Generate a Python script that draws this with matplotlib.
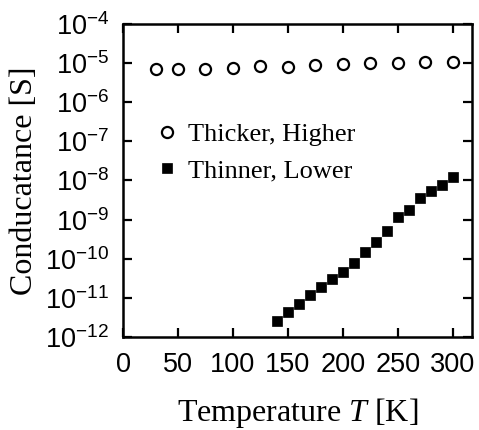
import numpy as np
import matplotlib
matplotlib.use("Agg")
import matplotlib.pyplot as plt
from matplotlib.ticker import FixedLocator, LogFormatterSciNotation, NullLocator

plt.rcParams['font.family'] = ['Liberation Sans', 'DejaVu Sans']
plt.rcParams['mathtext.fontset'] = 'custom'
plt.rcParams['mathtext.rm'] = 'Liberation Sans'
plt.rcParams['mathtext.it'] = 'Liberation Serif:italic'
plt.rcParams['mathtext.bf'] = 'Liberation Sans:bold'

# thicker film, higher conductance
t_thick = [30, 50, 75, 100, 125, 150, 175, 200, 225, 250, 275, 300]
g_thick = [7.0e-6, 7.0e-6, 7.0e-6, 7.7e-6, 8.2e-6, 7.9e-6, 8.7e-6, 9.4e-6,
           1.0e-5, 1.0e-5, 1.06e-5, 1.06e-5]

# thinner film, lower conductance
t_thin = [140, 150, 160, 170, 180, 190, 200, 210, 220, 230, 240, 250, 260,
          270, 280, 290, 300]
g_thin = [2.6e-12, 4.4e-12, 6.9e-12, 1.18e-11, 1.9e-11, 2.95e-11, 4.7e-11,
          7.8e-11, 1.5e-10, 2.7e-10, 5.1e-10, 1.14e-9, 1.74e-9, 3.5e-9,
          5.4e-9, 7.6e-9, 1.26e-8]

x_ticks = [0, 50, 100, 150, 200, 250, 300]
y_ticks = [1e-12, 1e-11, 1e-10, 1e-9, 1e-8, 1e-7, 1e-6, 1e-5, 1e-4]

fig = plt.figure(figsize=(4.79, 4.30), dpi=100)
ax = fig.add_axes([0.2568, 0.2163, 0.7286, 0.7279])

ax.plot(t_thick, g_thick, 'o', ms=8, mfc='white', mec='black', mew=1.6,
        label='Thicker, Higher')
ax.plot(t_thin, g_thin, 's', ms=7.5, mfc='black', mec='black', mew=0.5,
        label='Thinner, Lower')

ax.set_yscale('log')
ax.set_xlim(0, 317.3)
ax.set_ylim(1e-12, 1e-4)
ax.xaxis.set_major_locator(FixedLocator(x_ticks))
ax.yaxis.set_major_locator(FixedLocator(y_ticks))
ax.yaxis.set_major_formatter(LogFormatterSciNotation())
ax.yaxis.set_minor_locator(NullLocator())

for s in ax.spines.values():
    s.set_linewidth(1.8)
ax.tick_params(which='major', direction='in', top=True, right=True,
               length=6.5, width=1.6, labelsize=19.5)
ax.tick_params(axis='x', pad=11)
ax.tick_params(axis='y', pad=10)

ax.set_xlabel('Temperature $T$ [K]', family='Liberation Serif', fontsize=23)
ax.set_ylabel('Conducatance [S]', family='Liberation Serif', fontsize=23)
ax.xaxis.set_label_coords(0.5, -0.19)
ax.yaxis.set_label_coords(-0.24, 0.5)

ax.legend(loc='upper left', bbox_to_anchor=(0.089, 0.684), frameon=False,
          borderpad=0, borderaxespad=0, handlelength=1, handletextpad=0.3,
          labelspacing=0.46, numpoints=1,
          prop={'family': 'Liberation Serif', 'size': 19})

fig.savefig('out.png', dpi=100)
